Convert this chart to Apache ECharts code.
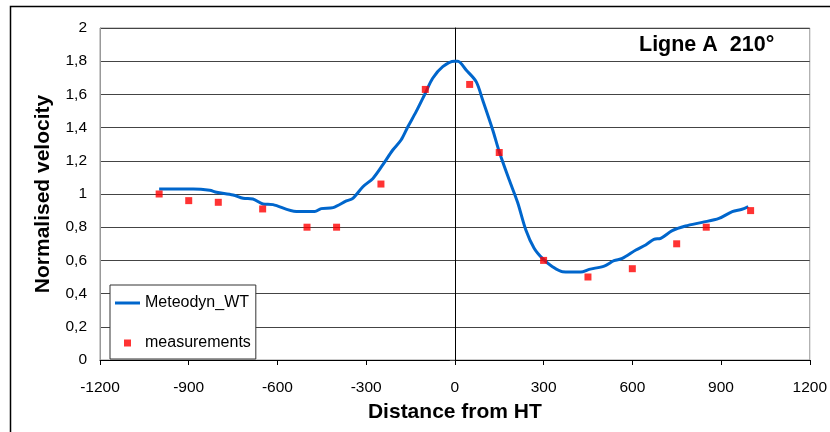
<!DOCTYPE html>
<html>
<head>
<meta charset="utf-8">
<script src="https://cdn.jsdelivr.net/npm/echarts@6/dist/echarts.min.js"></script>
<style>
  html, body { margin: 0; padding: 0; background: #fff; }
  #chart { width: 830px; height: 432px; }
</style>
</head>
<body>
<div id="chart"></div>
<script>
// Meteodyn_WT curve (distance from HT, normalised velocity)
var curveX = [-1000, -885, -829, -806, -750, -716, -683, -649, -615, -536, -474, -452, -412, -367, -345,
  -311, -277, -244, -210, -182, -159, -131, -100, -75, -41, -2, 10, 38, 72, 94, 128, 150, 184, 212,
  240, 268, 296, 330, 364, 426, 454, 505, 538, 566, 612, 645, 673, 696, 735, 780, 836, 893, 938, 971, 992];
var curveY = [1.03, 1.03, 1.022, 1.01, 0.994, 0.974, 0.97, 0.94, 0.936, 0.894, 0.894, 0.912, 0.918, 0.958, 0.974,
  1.044, 1.094, 1.175, 1.265, 1.325, 1.405, 1.496, 1.607, 1.697, 1.767, 1.8, 1.8, 1.747, 1.677, 1.566, 1.386, 1.255, 1.084, 0.95,
  0.783, 0.673, 0.612, 0.562, 0.532, 0.53, 0.546, 0.566, 0.598, 0.612, 0.663, 0.693, 0.727, 0.733, 0.779, 0.807, 0.829, 0.853, 0.894, 0.908, 0.924];

// measurements
var measX = [-1000, -900, -800, -650, -500, -400, -250, -100, 50, 150, 300, 450, 600, 750, 850, 1000];
var measY = [1.0, 0.96, 0.95, 0.91, 0.80, 0.80, 1.06, 1.63, 1.66, 1.25, 0.60, 0.50, 0.55, 0.70, 0.80, 0.90];

var chart = echarts.init(document.getElementById('chart'));

var font = '"Liberation Sans", Arial, sans-serif';

function comma(v) {
  return (Math.round(v * 10) / 10).toString().replace('.', ',');
}

var option = {
  backgroundColor: '#fff',
  animation: false,
  textStyle: { fontFamily: font },
  title: {
    text: 'Ligne A  210°',
    left: 639,
    top: 34,
    padding: 0,
    textStyle: { fontFamily: font, fontSize: 21.5, fontWeight: 'bold', color: '#000' }
  },
  graphic: [{
    type: 'rect',
    shape: { x: 10.5, y: 6.5, width: 840, height: 450 },
    style: { fill: 'none', stroke: '#000', lineWidth: 1.5 },
    silent: true
  }],
  legend: {
    orient: 'vertical',
    left: 110,
    top: 285,
    padding: [10, 5, 8, 5],
    itemWidth: 25,
    itemHeight: 7,
    itemGap: 24,
    borderColor: '#333',
    borderWidth: 1,
    backgroundColor: '#fff',
    textStyle: { fontFamily: font, fontSize: 16, color: '#000' },
    data: [
      { name: 'Meteodyn_WT', icon: 'path://M0,0h25v3h-25z' },
      { name: 'measurements', icon: 'path://M0,0h7v7h-7z' }
    ]
  },
  grid: {
    left: 100, right: 19, top: 28, bottom: 72,
    show: true,
    borderColor: '#999',
    borderWidth: 1
  },
  xAxis: {
    type: 'value',
    min: -1200, max: 1200, interval: 300,
    name: 'Distance from HT',
    nameLocation: 'middle',
    nameGap: 42,
    nameTextStyle: { fontFamily: font, fontSize: 21, fontWeight: 'bold', color: '#000' },
    axisLine: { onZero: false, lineStyle: { color: '#000', width: 1 } },
    axisTick: { show: true, length: 5, lineStyle: { color: '#000' } },
    axisLabel: { margin: 20, fontSize: 15.5, color: '#000', fontFamily: font, formatter: function (v) { return String(v); } },
    splitLine: { show: false }
  },
  yAxis: [{
    type: 'value',
    min: 0, max: 2, interval: 0.2,
    name: 'Normalised velocity',
    nameLocation: 'middle',
    nameGap: 46,
    nameTextStyle: { fontFamily: font, fontSize: 21, fontWeight: 'bold', color: '#000' },
    axisLine: { show: true, onZero: false, lineStyle: { color: '#999' } },
    axisTick: { show: false },
    axisLabel: { margin: 13, fontSize: 15.5, color: '#000', fontFamily: font, formatter: comma },
    splitLine: { show: true, lineStyle: { color: '#444', width: 1 } }
  }, {
    type: 'value',
    min: 0, max: 2, interval: 0.2,
    position: 'left',
    axisLine: { show: true, onZero: true, lineStyle: { color: '#000', width: 1 } },
    axisTick: { show: true, length: 5, lineStyle: { color: '#444' } },
    axisLabel: { show: false },
    splitLine: { show: false }
  }],
  series: [{
    name: 'Meteodyn_WT',
    type: 'line',
    data: curveX.map(function (x, i) { return [x, curveY[i]]; }),
    smooth: 0.3,
    symbol: 'none',
    lineStyle: { color: '#0066CC', width: 3 },
    itemStyle: { color: '#0066CC' },
    z: 3
  }, {
    name: 'measurements',
    type: 'scatter',
    data: measX.map(function (x, i) { return [x, measY[i]]; }),
    symbol: 'rect',
    symbolSize: 7,
    itemStyle: { color: '#FF0000' },
    z: 4
  }]
};

chart.setOption(option);
</script>
</body>
</html>
